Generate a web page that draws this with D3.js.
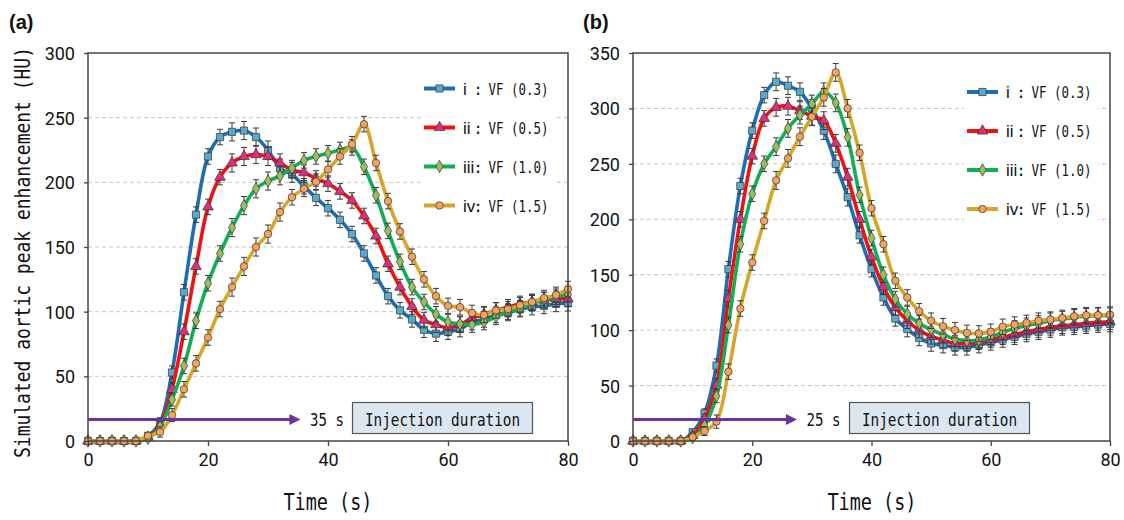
<!DOCTYPE html>
<meta charset="utf-8">
<style>
body { margin: 0; background: #fff; }
text { fill: #111; }
.tick text { font: 18px "Liberation Sans Narrow", "Roboto", sans-serif; fill: #111; }
.mono { font-family: "DejaVu Sans Mono", monospace; }
</style>
<body>
<script src="https://d3js.org/d3.v7.min.js"></script>
<script>

// sample times (s)
var time = [0, 2, 4, 6, 8, 10, 12, 14, 16, 18, 20, 22, 24, 26, 28, 30, 32, 34, 36, 38, 40,
            42, 44, 46, 48, 50, 52, 54, 56, 58, 60, 62, 64, 66, 68, 70, 72, 74, 76, 78, 80];

// panel (a)
var iA   = [0, 0, 0, 0, 0, 4, 14, 53, 115, 175, 220, 235, 239, 240, 235, 225, 211, 206, 197, 188, 180,
            171, 160, 145, 128, 112, 101, 94, 86, 83, 84.5, 86.5, 92, 94, 97.5, 99, 102, 103.5, 104.5, 106, 106.5];
var iiA  = [0, 0, 0, 0, 0, 3, 12, 40, 84.5, 135, 181, 204, 215, 220, 221.5, 220, 215, 209.5, 207.5, 203, 199,
            193, 186, 174, 158.5, 137, 119, 104, 93.5, 90, 87.5, 90, 95, 98, 101, 103.5, 106, 107.5, 109, 110, 110];
var iiiA = [0, 0, 0, 0, 0, 2, 11, 32, 58, 93, 122, 145, 165, 182, 195, 201, 205, 211, 217, 220, 222.5,
            225, 227, 212, 190, 162.5, 138.5, 119, 107.5, 98, 92, 90.5, 90, 92, 96, 100, 102.5, 106.5, 109, 111.5, 113.5];
var ivA  = [0, 0, 0, 0, 0, 4, 7, 20, 40, 60, 80, 102, 119, 135, 150, 160, 177, 188.5, 195, 200.5, 210,
            220, 229.5, 245, 215, 185.5, 162, 142.5, 125, 112, 104.5, 103.5, 99, 97.5, 101, 102, 105, 107.5, 110.5, 113, 117.5];
var errA = [0, 0, 0, 0, 0, 2, 4, 5, 6, 6, 6, 6, 7, 7, 7, 7, 7, 6, 6, 6, 6,
            6, 6, 6, 6, 6, 6, 6, 6, 6, 6, 6, 6, 6, 6, 6, 6, 6, 6, 6, 6];

// panel (b)
var iB   = [0, 0, 0, 0, 0, 8, 25, 68, 155, 230, 280, 312, 324, 320.5, 315, 300, 280, 250, 220, 185.5, 155,
            129.5, 110.5, 101, 93, 88, 86.5, 84.5, 84.5, 86.5, 89, 91.5, 94, 96.5, 98.5, 100.5, 102.5, 103, 104, 105, 105.5];
var iiB  = [0, 0, 0, 0, 0, 5, 20, 50.5, 128.5, 200, 257, 291, 301, 302, 298, 293, 289, 268.5, 238, 200, 166,
            139, 120.5, 108.5, 100, 94.5, 91, 88, 88, 89.5, 91.5, 94, 96, 98.5, 100.5, 102.5, 104, 105, 106, 107, 107.5];
var iiiB = [0, 0, 0, 0, 0, 3, 14, 40.5, 104.5, 177.5, 223, 250, 265.5, 282, 294, 304, 315, 305, 274, 222, 183,
            150, 128, 114.5, 106, 100.5, 96, 92, 90.5, 91, 94, 98, 101.5, 104, 106, 108.5, 110, 111.5, 112.5, 113, 113];
var ivB  = [0, 0, 0, 0, 0, 3.5, 9, 17.5, 62.5, 119.5, 161, 198.5, 235, 255, 274.5, 292.5, 310, 332.5, 300, 260, 210,
            177.5, 144.5, 129.5, 117, 108.5, 103.5, 100, 97.5, 97, 98.5, 103, 105, 106.5, 108.5, 109.5, 111, 112.5, 113.5, 113.5, 114];
var errB = [0, 0, 0, 0, 0, 2, 4, 6, 7, 7, 7, 7, 8, 8, 8, 8, 8, 8, 8, 7, 7,
            7, 7, 7, 7, 7, 7, 7, 7, 7, 7, 7, 7, 7, 7, 7, 7, 7, 7, 7, 7];

var seriesLabels = ["i", "ii", "iii", "iv"];
var vfLabels = ["VF (0.3)", "VF (0.5)", "VF (1.0)", "VF (1.5)"];
var xTicks = [0, 20, 40, 60, 80];
var yTicksA = [0, 50, 100, 150, 200, 250, 300];
var yTicksB = [0, 50, 100, 150, 200, 250, 300, 350];
var injection = ["35 s", "25 s"];
var arrowEnd = [35.4, 27.5];

var lineColors = ["#1f6db5", "#f21010", "#12ad55", "#d6a62a"];
var markerFill = ["#58aacb", "#de2f78", "#9cbd5c", "#f3a260"];
var markerType = [d3.symbolSquare, d3.symbolTriangle, d3.symbolDiamond, d3.symbolCircle];
var markerSize = [52, 50, 44, 44];

var width = 1124, height = 520;
var svg = d3.select("body").append("svg")
    .attr("width", width)
    .attr("height", height);

function panel(p) {
  var x = d3.scaleLinear().domain([0, 80]).range([p.x0, p.x1]);
  var y = d3.scaleLinear().domain([0, p.yTicks[p.yTicks.length - 1]]).range([441, 53]);
  var g = svg.append("g");

  // gridlines
  g.selectAll(".grid").data(p.yTicks.slice(1, -1)).enter().append("line")
      .attr("x1", p.x0).attr("x2", p.x1)
      .attr("y1", function(d) { return y(d); }).attr("y2", function(d) { return y(d); })
      .style("stroke", "#c4c4c4").style("stroke-dasharray", "4,3").style("stroke-width", 1);

  // legend background
  g.append("rect")
      .attr("x", p.legX - 3).attr("y", p.legY - 20)
      .attr("width", p.legW).attr("height", 158)
      .style("fill", "#fff");

  // series
  p.series.forEach(function(vals, k) {
    var pts = time.map(function(t, i) { return { t: t, v: vals[i], e: p.err[i] }; });
    var line = d3.line()
        .x(function(d) { return x(d.t); })
        .y(function(d) { return y(d.v); })
        .curve(d3.curveCatmullRom.alpha(0.5));
    g.append("path").datum(pts)
        .attr("d", line)
        .style("fill", "none")
        .style("stroke", lineColors[k])
        .style("stroke-width", 3.6)
        .style("stroke-linejoin", "round");

    var eb = g.append("g").selectAll("g").data(pts.filter(function(d) { return d.e > 0; }))
      .enter().append("g")
        .style("stroke", "#3a3a3a").style("stroke-width", 1);
    eb.append("line")
        .attr("x1", function(d) { return x(d.t); }).attr("x2", function(d) { return x(d.t); })
        .attr("y1", function(d) { return y(d.v - d.e); }).attr("y2", function(d) { return y(d.v + d.e); });
    eb.append("line")
        .attr("x1", function(d) { return x(d.t) - 3; }).attr("x2", function(d) { return x(d.t) + 3; })
        .attr("y1", function(d) { return y(d.v + d.e); }).attr("y2", function(d) { return y(d.v + d.e); });
    eb.append("line")
        .attr("x1", function(d) { return x(d.t) - 3; }).attr("x2", function(d) { return x(d.t) + 3; })
        .attr("y1", function(d) { return y(d.v - d.e); }).attr("y2", function(d) { return y(d.v - d.e); });

    var sym = d3.symbol().type(markerType[k]).size(markerSize[k]);
    g.append("g").selectAll("path").data(pts).enter().append("path")
        .attr("d", sym)
        .attr("transform", function(d) { return "translate(" + x(d.t) + "," + y(d.v) + ")"; })
        .style("fill", markerFill[k])
        .style("stroke", "#333")
        .style("stroke-width", 0.7);

    // legend entry
    var ly = p.legY + k * 39;
    g.append("line")
        .attr("x1", p.legX).attr("x2", p.legX + 31)
        .attr("y1", ly).attr("y2", ly)
        .style("stroke", lineColors[k]).style("stroke-width", 4);
    g.append("path")
        .attr("d", sym)
        .attr("transform", "translate(" + (p.legX + 15.5) + "," + ly + ")")
        .style("fill", markerFill[k]).style("stroke", "#333").style("stroke-width", 0.7);
    g.append("text")
        .attr("x", p.legX + 39).attr("y", ly + 6)
        .style("font", "17px 'Liberation Sans', sans-serif")
        .text(seriesLabels[k]);
    g.append("text").attr("class", "mono")
        .attr("x", p.legX + 54).attr("y", ly + 6)
        .attr("text-anchor", "middle")
        .style("font-size", "16px")
        .text(":");
    g.append("text").attr("class", "mono")
        .attr("x", p.legX + 64.5).attr("y", ly + 6)
        .attr("textLength", 60).attr("lengthAdjust", "spacingAndGlyphs")
        .style("font-size", "16px")
        .text(vfLabels[k]);
  });

  // axes
  var xa = g.append("g").attr("transform", "translate(0,441)")
      .call(d3.axisBottom(x).tickValues(xTicks).tickSize(5).tickSizeOuter(0).tickPadding(7));
  var ya = g.append("g").attr("transform", "translate(" + p.x0 + ",0)")
      .call(d3.axisLeft(y).tickValues(p.yTicks).tickSize(4).tickSizeOuter(0).tickPadding(9));
  [xa, ya].forEach(function(a) {
    a.select(".domain").remove();
    a.selectAll(".tick line").style("stroke", "#444").style("stroke-width", 1.3);
  });
  ya.selectAll(".tick text").attr("dy", "0.36em");

  // frame
  g.append("rect")
      .attr("x", p.x0).attr("y", 53)
      .attr("width", p.x1 - p.x0).attr("height", 388)
      .style("fill", "none").style("stroke", "#444").style("stroke-width", 1.5);

  // injection arrow
  var ay = 419.5, tip = x(p.arrowEnd);
  g.append("line")
      .attr("x1", p.x0).attr("x2", tip - 8)
      .attr("y1", ay).attr("y2", ay)
      .style("stroke", "#7030a0").style("stroke-width", 3);
  g.append("path")
      .attr("d", "M" + tip + "," + ay + "L" + (tip - 11) + "," + (ay - 5.5) + "L" + (tip - 11) + "," + (ay + 5.5) + "Z")
      .style("fill", "#7030a0");
  g.append("text").attr("class", "mono")
      .attr("x", tip + 9.5).attr("y", 426)
      .attr("textLength", 34).attr("lengthAdjust", "spacingAndGlyphs")
      .style("font-size", "17px")
      .text(p.injection);
  g.append("rect")
      .attr("x", p.boxX).attr("y", 402.5)
      .attr("width", 180).attr("height", 31)
      .style("fill", "#dce6f1").style("stroke", "#555").style("stroke-width", 1.2);
  g.append("text").attr("class", "mono")
      .attr("x", p.boxX + 12.5).attr("y", 426)
      .attr("textLength", 155).attr("lengthAdjust", "spacingAndGlyphs")
      .style("font-size", "17px")
      .text("Injection duration");

  // x title
  g.append("text").attr("class", "mono")
      .attr("transform", "translate(" + p.titleX + ",510) scale(1,1.2)")
      .attr("textLength", 89).attr("lengthAdjust", "spacingAndGlyphs")
      .style("font-size", "18.5px")
      .text("Time (s)");

  // panel label
  g.append("text")
      .attr("x", p.labelX).attr("y", 29)
      .style("font", "bold 20px 'Liberation Sans', sans-serif")
      .text(p.label);
}

panel({ x0: 88, x1: 568, yTicks: yTicksA, series: [iA, iiA, iiiA, ivA], err: errA,
        legX: 424, legY: 88.5, legW: 134, arrowEnd: arrowEnd[0], injection: injection[0],
        boxX: 352.5, titleX: 283.5, labelX: 9, label: "(a)" });
panel({ x0: 633, x1: 1110, yTicks: yTicksB, series: [iB, iiB, iiiB, ivB], err: errB,
        legX: 967, legY: 92, legW: 134, arrowEnd: arrowEnd[1], injection: injection[1],
        boxX: 849.5, titleX: 827.5, labelX: 583, label: "(b)" });

// y title
svg.append("text").attr("class", "mono")
    .attr("transform", "translate(30,458) rotate(-90) scale(1,1.18)")
    .attr("textLength", 411).attr("lengthAdjust", "spacingAndGlyphs")
    .style("font-size", "18px")
    .text("Simulated aortic peak enhancement (HU)");

</script>
